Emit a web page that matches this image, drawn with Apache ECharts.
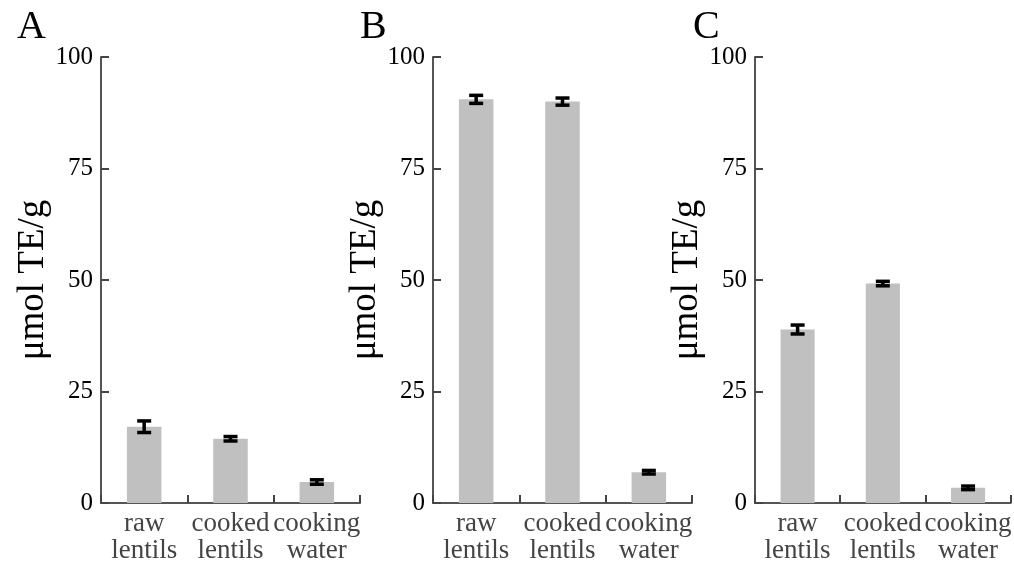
<!DOCTYPE html>
<html>
<head>
<meta charset="utf-8">
<script src="https://cdn.jsdelivr.net/npm/echarts@6/dist/echarts.min.js"></script>
<style>
html,body{margin:0;padding:0;background:#fff;}
#chart{width:1014px;height:569px;}
</style>
</head>
<body>
<div id="chart"></div>
<script>
const categories = ['raw\nlentils', 'cooked\nlentils', 'cooking\nwater'];
const panelLetters = ['A', 'B', 'C'];
const yTicks = [0, 25, 50, 75, 100];
const valuesA = [17.1, 14.4, 4.7];
const errorsA = [1.3, 0.5, 0.5];
const valuesB = [90.5, 90.0, 6.9];
const errorsB = [0.9, 0.8, 0.4];
const valuesC = [38.9, 49.2, 3.4];
const errorsC = [1.0, 0.5, 0.4];

const panels = [
  {values: valuesA, errors: errorsA},
  {values: valuesB, errors: errorsB},
  {values: valuesC, errors: errorsC}
];
const FONT = "'Liberation Serif', 'Times New Roman', serif";
const gridLefts = [101, 433, 755];
const gridW = 259;
const gridTop = 57, gridBottom = 569 - 503;

const grids = [], xAxes = [], yAxes = [], series = [], titles = [];
panels.forEach((p, i) => {
  grids.push({left: gridLefts[i], top: gridTop, width: gridW, bottom: gridBottom});
  xAxes.push({
    type: 'category', gridIndex: i, data: categories,
    axisLine: {lineStyle: {color: '#555', width: 2}},
    axisTick: {show: true, interval: 0, inside: true, length: 8, lineStyle: {color: '#444', width: 2}},
    axisLabel: {interval: 0, fontFamily: FONT, fontSize: 27, color: '#444', lineHeight: 27, margin: 7}
  });
  yAxes.push({
    type: 'value', gridIndex: i, min: yTicks[0], max: yTicks[yTicks.length - 1], interval: 25,
    name: 'μmol TE/g', nameLocation: 'middle', nameGap: 45,
    nameTextStyle: {fontFamily: FONT, fontSize: 37, color: '#000'},
    axisLine: {show: true, lineStyle: {color: '#555', width: 2}},
    axisTick: {show: true, inside: true, length: 8, lineStyle: {color: '#444', width: 2}},
    axisLabel: {fontFamily: FONT, fontSize: 25, color: '#000', margin: 8},
    splitLine: {show: false}
  });
  series.push({
    type: 'bar', xAxisIndex: i, yAxisIndex: i, data: p.values,
    barWidth: '40%', itemStyle: {color: '#c0c0c0'}, silent: true
  });
  series.push({
    type: 'custom', xAxisIndex: i, yAxisIndex: i,
    data: p.values.map((v, k) => [k, v - p.errors[k], v + p.errors[k]]),
    renderItem: function (params, api) {
      const x = api.coord([api.value(0), 0])[0];
      const lo = api.coord([api.value(0), api.value(1)])[1];
      const hi = api.coord([api.value(0), api.value(2)])[1];
      const hw = 7;
      const st = {stroke: '#000', lineWidth: 3.5};
      return {type: 'group', children: [
        {type: 'line', shape: {x1: x, y1: lo, x2: x, y2: hi}, style: st},
        {type: 'line', shape: {x1: x - hw, y1: lo, x2: x + hw, y2: lo}, style: st},
        {type: 'line', shape: {x1: x - hw, y1: hi, x2: x + hw, y2: hi}, style: st}
      ]};
    },
    z: 5, silent: true
  });
  titles.push({text: panelLetters[i], left: [12, 355, 688][i], top: 2,
    textStyle: {fontFamily: FONT, fontSize: 40, fontWeight: 'normal', color: '#000'}});
});

const chart = echarts.init(document.getElementById('chart'), null, {renderer: 'canvas'});
chart.setOption({
  animation: false,
  backgroundColor: '#fff',
  title: titles,
  grid: grids,
  xAxis: xAxes,
  yAxis: yAxes,
  series: series
});
</script>
</body>
</html>
